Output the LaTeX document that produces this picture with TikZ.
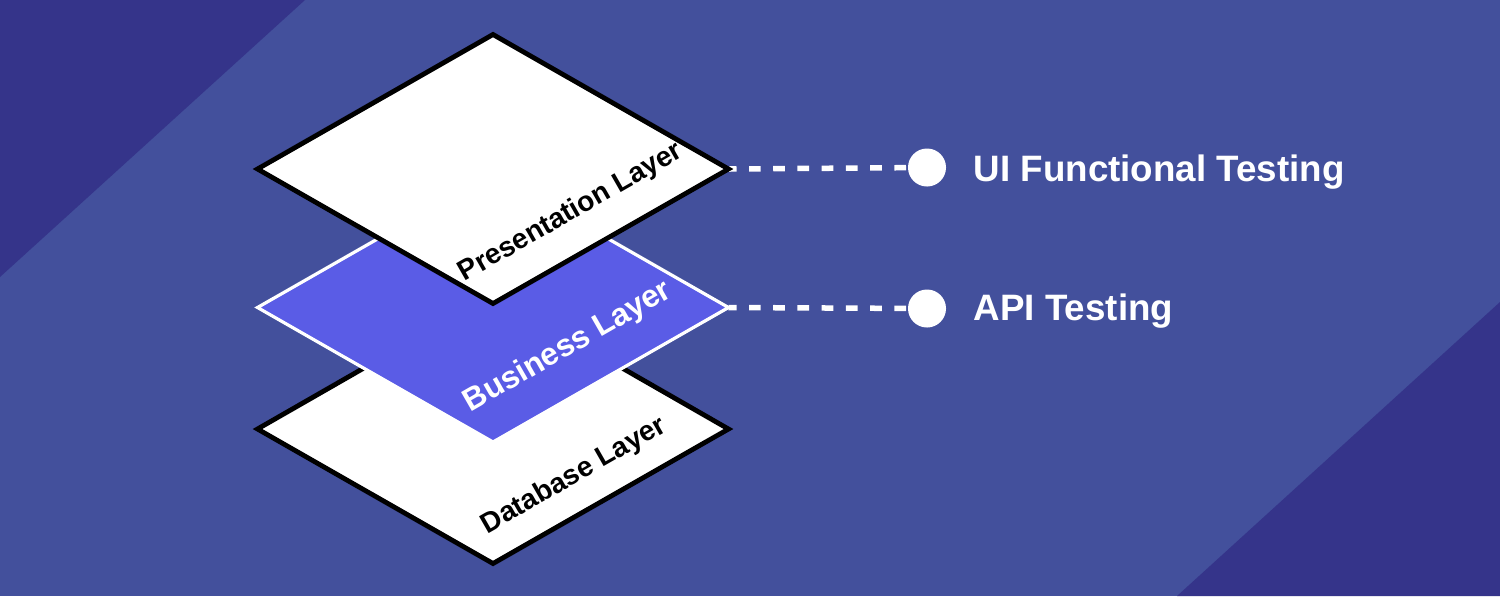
\documentclass[tikz,border=0pt]{standalone}
\usepackage{fontspec}
\setmainfont{Liberation Sans}
\definecolor{bgblue}{HTML}{43509C}
\definecolor{darkblue}{HTML}{35348A}
\definecolor{bizblue}{HTML}{5A5CE6}
\tikzset{
  layerwhite/.style={fill=white, draw=black, line width=0.048cm, line join=miter},
  layerbiz/.style={fill=bizblue, draw=white, line width=0.032cm, line join=miter},
  layertext/.style={rotate=29.8, inner sep=0pt, anchor=center, font=\bfseries\fontsize{8.0pt}{9pt}\selectfont},
  conn/.style={draw=white, line width=0.055cm, dash pattern=on 0.117cm off 0.125cm, dash phase=0.037cm},
  dot/.style={circle, fill=white, inner sep=0pt, minimum size=0.38cm},
  testlabel/.style={anchor=base west, inner sep=0pt, text=white, font=\bfseries\fontsize{10.45pt}{12pt}\selectfont}
}
\begin{document}
\begin{tikzpicture}[x=0.01cm, y=-0.01cm]
\useasboundingbox (0,0) rectangle (1500,596);
\fill[bgblue] (0,0) rectangle (1500,596);
\fill[darkblue] (0,0) -- (305,0) -- (0,277) -- cycle;
\fill[darkblue] (1500,302) -- (1500,596) -- (1177,596) -- cycle;

% named vertices
\coordinate (pr) at (728.5,169);
\coordinate (br) at (728.5,307.5);
\node[dot] (c1) at (927,167.5) {};
\node[dot] (c2) at (927,308.5) {};

% connectors (behind layers)
\draw[conn] (pr) -- (c1);
\draw[conn] (br) -- (c2);

% Database layer
\path[layerwhite] (493,294) -- (728.5,429) -- (493,563.5) -- (257.5,429) -- cycle;
% Business layer
\path[layerbiz] (493,173) -- (br) -- (493,442) -- (257.5,307.5) -- cycle;
% Presentation layer
\path[layerwhite] (493,34.5) -- (pr) -- (493,303.5) -- (257.5,169) -- cycle;

\node[layertext] (tp) at (571,212.5) {Presentation Layer};
\node[layertext, text=white, font=\bfseries\fontsize{9pt}{10pt}\selectfont] (tb) at (568,347) {Business Layer};
\node[layertext] (td) at (574,476) {Database Layer};

\node[testlabel] (l1) at (973,181.5) {UI Functional Testing};
\node[testlabel] (l2) at (973,320.5) {API Testing};
\end{tikzpicture}
\end{document}
